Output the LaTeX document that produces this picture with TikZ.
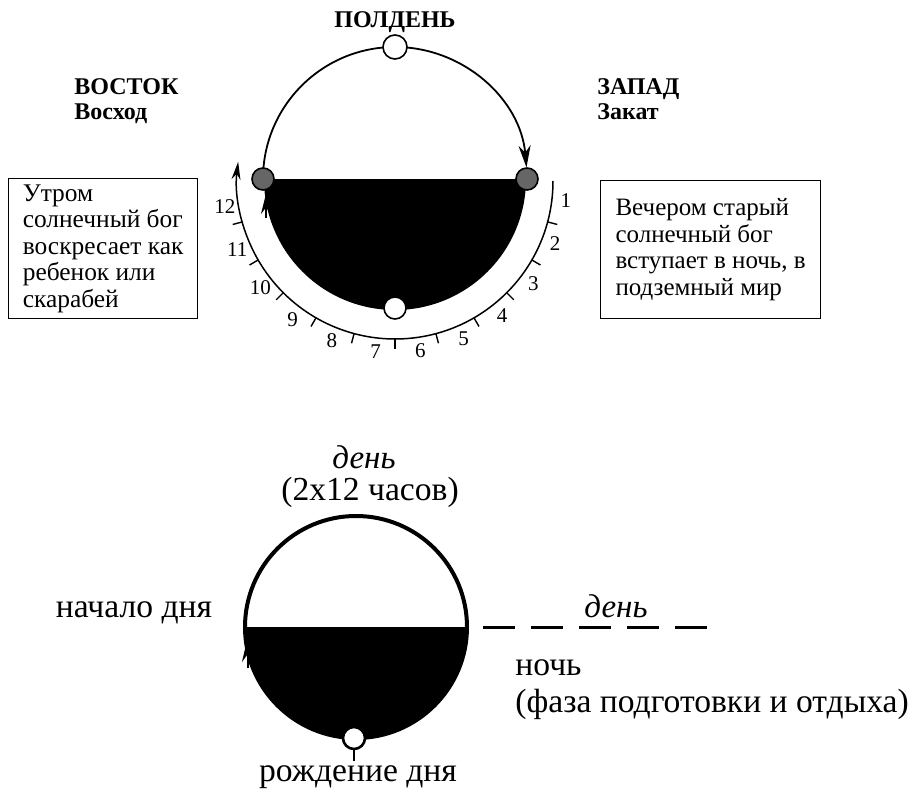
\documentclass[tikz,border=0pt]{standalone}
\usepackage{fontspec}
\setmainfont{Liberation Serif}
\usetikzlibrary{arrows.meta, positioning, backgrounds}
\tikzset{
  dot/.style={circle, draw, line width=0.8pt, minimum size=11pt, inner sep=0pt},
  sun/.style={dot, fill=white},
  dimsun/.style={dot, fill=black!60},
  hdr/.style={font=\fontsize{12}{12.5}\selectfont\bfseries, align=left, inner sep=0pt},
  note/.style={draw, line width=0.6pt, align=left, font=\fontsize{12.7}{13.3}\selectfont, minimum width=94.5pt, minimum height=70pt, inner sep=0pt},
  hour/.style={font=\fontsize{10.5}{11}\selectfont, inner sep=0pt},
  lbl/.style={font=\fontsize{16.8}{18.5}\selectfont, inner sep=0pt},
  itlbl/.style={font=\fontsize{16.5}{18}\selectfont\itshape, inner sep=0pt},
  arr/.style={-{Stealth[length=11pt, width=6pt]}, line width=0.9pt},
  tip/.style={-{Stealth[length=9pt, width=4.5pt]}, line width=0.8pt},
  daydash/.style={line width=1.5pt, dash pattern=on 16pt off 8pt},
}

\begin{document}
\begin{tikzpicture}[x=0.5pt, y=-0.5pt]
\useasboundingbox (0,0) rectangle (912,803);

% --- sun path over the day, night below ---
\coordinate (sc) at (395,179);
\coordinate (hc) at (395,181);
\node[sun, minimum size=12pt] (noon) at (395,47) {};
\node[dimsun] (rise) at (263,179) {};
\node[dimsun] (set) at (527,179) {};
\node[sun] (midnight) at (395,308) {};
\begin{scope}[on background layer]
  \fill ([shift={(180:131)}]sc) arc[start angle=180, end angle=0, radius=131] -- cycle;
  \draw[arr] (rise.center) arc[start angle=180, end angle=355, radius=132];
\end{scope}
\draw[tip, -{Stealth[length=10pt, width=5pt]}] (266,218) -- (266,194);

% night hours
\draw[tip, line width=0.75pt] ([shift={(0:158)}]hc) arc[start angle=0, end angle=187, radius=158];
\foreach \a in {15,30,...,165}
  \draw[line width=0.7pt] ([shift={(\a:158)}]hc) -- ([shift={(\a:168)}]hc);
\foreach \h in {1,...,12}
  \node[hour] at ([shift={({\h*15-8.5}:172)}]hc) {\h};

\node[hdr] (noonlbl) at (395,22) {ПОЛДЕНЬ};
\node[hdr, anchor=north west] (east) at (74,78) {ВОСТОК\\Восход};
\node[hdr, anchor=north west] (west) at (597,78) {ЗАПАД\\Закат};
\node[note, anchor=north west] (morning) at (8,178) {Утром\\солнечный бог\\воскресает как\\ребенок или\\скарабей};
\node[note, anchor=north west, font=\fontsize{12.5}{13.3}\selectfont, minimum width=110pt, minimum height=69pt] (evening) at (600,180) {Вечером старый\\солнечный бог\\вступает в ночь, в\\подземный мир};

% --- day circle ---
\coordinate (bc) at (356,627);
\coordinate (dashend) at (708,627);
\coordinate (stem) at (354,761);
\fill ([shift={(180:111)}]bc) arc[start angle=180, end angle=0, radius=111] -- cycle;
\draw[line width=2pt] (bc) circle[radius=111];
\draw[daydash] ([shift={(0:127)}]bc) -- (dashend);
\draw[tip, line width=1pt, -{Stealth[length=13pt, width=6pt]}] (248,668) -- (248,636);
\draw[line width=1.3pt] (354,749) -- (stem);
\node[sun, line width=1.3pt] (birth) at (354,738) {};

\node[itlbl] (dayname) at (364,457) {день};
\node[lbl] (dayhrs) at (370,492) {(2x12 часов)};
\node[lbl] (start) at (134,613) {начало дня};
\node[itlbl] (daytag) at (616,606) {день};
\node[lbl, align=left, anchor=north west] (night) at (515,659) {ночь\\(фаза подготовки и отдыха)};
\node[lbl] (birthlbl) at (358,777) {рождение дня};
\end{tikzpicture}
\end{document}
